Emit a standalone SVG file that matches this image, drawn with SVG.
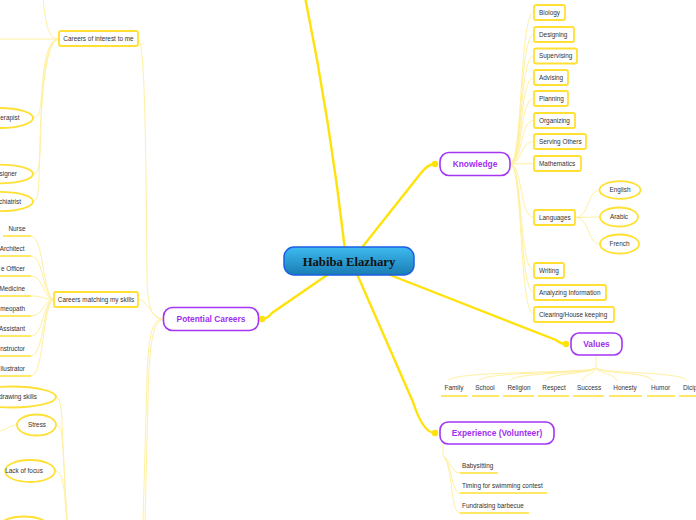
<svg xmlns="http://www.w3.org/2000/svg" width="696" height="520" viewBox="0 0 696 520">
<defs>
<linearGradient id="cg" x1="0" y1="0" x2="0" y2="1">
<stop offset="0" stop-color="#3dbaf0"/>
<stop offset="1" stop-color="#1a7db3"/>
</linearGradient>
</defs>
<style>
.main{fill:none;stroke:#ffe20a;stroke-width:2.4;stroke-linecap:round}
.thin{fill:none;stroke:#fff0a0;stroke-width:1}
.dot{fill:#ffe20a}
.topic{fill:#fff;stroke:#a535f5;stroke-width:1.6}
.ttext{font-family:"Liberation Sans",Arial,sans-serif;font-size:8.4px;font-weight:bold;fill:#a030f0;text-anchor:middle}
.box{fill:#fff;stroke:#ffe033;stroke-width:1.8}
.ell{fill:#fff;stroke:#ffe033;stroke-width:1.8}
.ul{stroke:#ffe033;stroke-width:1.5}
.t{font-family:"Liberation Sans",Arial,sans-serif;font-size:6.4px;fill:#333}
.m{text-anchor:middle}
.e{text-anchor:end}
</style>

<g id="connectors">
<path class="main" d="M345,250 Q330,120 305,-3"/>
<path class="main" d="M360,250 L421,173 Q428,164 435,164"/>
<path class="main" d="M330,273 L272,313 Q267,319 262,319"/>
<path class="main" d="M385,273 L556,340 Q561,344 566,344"/>
<path class="main" d="M357,274 L413,402 Q423,433 435,433"/>
<circle class="dot" cx="435" cy="164" r="3.2"/>
<circle class="dot" cx="262" cy="319" r="3.2"/>
<circle class="dot" cx="566" cy="344" r="3.2"/>
<circle class="dot" cx="435" cy="433" r="3.2"/>

<!-- knowledge -->
<path class="thin" d="M510,164 C523,164 519,12.5 534,12.5"/>
<path class="thin" d="M510,164 C523,164 519,34.5 534,34.5"/>
<path class="thin" d="M510,164 C523,164 519,56 534,56"/>
<path class="thin" d="M510,164 C523,164 519,77.5 534,77.5"/>
<path class="thin" d="M510,164 C523,164 519,98.5 534,98.5"/>
<path class="thin" d="M510,164 C523,164 519,120.5 534,120.5"/>
<path class="thin" d="M510,164 C523,164 519,141.5 534,141.5"/>
<path class="thin" d="M510,164 L534,163.5"/>
<path class="thin" d="M510,164 C523,164 519,217.5 534,217.5"/>
<path class="thin" d="M510,164 C523,164 519,270.5 534,270.5"/>
<path class="thin" d="M510,164 C523,164 519,292.5 534,292.5"/>
<path class="thin" d="M510,164 C523,164 519,314.5 534,314.5"/>
<path class="thin" d="M575,217.5 C590,217.5 587,190 600,190"/>
<path class="thin" d="M575,217.5 L600,217"/>
<path class="thin" d="M575,217.5 C590,217.5 587,244 600,244"/>

<!-- values -->
<path class="thin" d="M596,355 L596,368"/>
<path class="thin" d="M596,368 C590,374 451,370 448,381"/>
<path class="thin" d="M596,368 C590,374 482,371 479,381"/>
<path class="thin" d="M596,368 C590,374 513,372 510,381"/>
<path class="thin" d="M596,368 C590,374 548,373 545,381"/>
<path class="thin" d="M596,368 C594,374 585,374 582,381"/>
<path class="thin" d="M596,368 C600,374 614,373 617,381"/>
<path class="thin" d="M596,368 C602,374 650,372 653,381"/>
<path class="thin" d="M596,368 C602,374 684,371 687,381"/>

<!-- experience -->
<path class="thin" d="M443,444 L443,456"/>
<path class="thin" d="M443,456 C451,460 451,473 460,473"/>
<path class="thin" d="M443,456 C452,462 451,493 460,493"/>
<path class="thin" d="M443,456 C453,464 450,513 460,513"/>

<!-- potential careers -->
<path class="thin" d="M163,319 C152,319 148,308 147,280 C146,150 145,39 138,39"/>
<path class="thin" d="M163,319 C151,319 149,299.5 138,299.5"/>
<path class="thin" d="M163,319 C151,319 148,340 147,380 L143,522"/>
<path class="thin" d="M163,319 C152,321 149,350 148,400 L145,522"/>

<!-- careers of interest -->
<path class="thin" d="M59,39 L0,39"/>
<path class="thin" d="M59,39 C49,39 46,28 43,-2"/>
<path class="thin" d="M59,39 C48,39 44,60 42,90 C40,114 39,118 33,118"/>
<path class="thin" d="M59,39 C48,39 43,70 41,120 C40,168 39,174 33,174"/>
<path class="thin" d="M59,39 C48,39 42,80 40,140 C39,195 38,201 33,201"/>

<!-- careers matching -->
<path class="thin" d="M54,299.5 C43,299.5 44,236 31,236"/>
<path class="thin" d="M54,299.5 C43,299.5 44,256 31,256"/>
<path class="thin" d="M54,299.5 C43,299.5 44,276 31,276"/>
<path class="thin" d="M54,299.5 C43,299.5 44,296 31,296"/>
<path class="thin" d="M54,299.5 C43,299.5 44,316 31,316"/>
<path class="thin" d="M54,299.5 C43,299.5 44,336 31,336"/>
<path class="thin" d="M54,299.5 C43,299.5 44,356 31,356"/>
<path class="thin" d="M54,299.5 C43,299.5 44,376 31,376"/>

<!-- bottom left -->
<path class="thin" d="M56,397 C62,397 62,420 63,450 L67,522"/>
<path class="thin" d="M56,425 C62,425 63,440 64,465 L67,522"/>
<path class="thin" d="M55,471 C61,471 64,482 65,500 L67,522"/>
<path class="thin" d="M17,425 C10,425 8,429 0,431"/>
</g>

<g id="center">
<rect x="284" y="247" width="130" height="28" rx="10" fill="url(#cg)" stroke="#1a5fe6" stroke-width="1.5"/>
<text x="349" y="265.5" font-family="'Liberation Serif','Times New Roman',serif" font-size="12.7" font-weight="bold" fill="#111" text-anchor="middle">Habiba Elazhary</text>
</g>

<g id="knowledge">
<rect class="topic" x="440" y="152.5" width="70" height="23" rx="9"/>
<text class="ttext" x="475" y="167">Knowledge</text>
</g>
<g id="potential-careers">
<rect class="topic" x="163.5" y="307.5" width="95" height="23" rx="9"/>
<text class="ttext" x="211" y="322">Potential Careers</text>
</g>
<g id="values">
<rect class="topic" x="571" y="333" width="51" height="22" rx="8"/>
<text class="ttext" x="596.5" y="347">Values</text>
</g>
<g id="experience">
<rect class="topic" x="440" y="422" width="114" height="22" rx="8"/>
<text class="ttext" x="497" y="436">Experience (Volunteer)</text>
</g>

<g id="k-biology"><rect class="box" x="534" y="5" width="31" height="15" rx="2"/><text class="t" x="539" y="14.8">Biology</text></g>
<g id="k-designing"><rect class="box" x="534" y="27" width="40" height="15" rx="2"/><text class="t" x="539" y="36.8">Designing</text></g>
<g id="k-supervising"><rect class="box" x="534" y="48.5" width="43" height="15" rx="2"/><text class="t" x="539" y="58.3">Supervising</text></g>
<g id="k-advising"><rect class="box" x="534" y="70" width="34" height="15" rx="2"/><text class="t" x="539" y="79.8">Advising</text></g>
<g id="k-planning"><rect class="box" x="534" y="91" width="34" height="15" rx="2"/><text class="t" x="539" y="100.8">Planning</text></g>
<g id="k-organizing"><rect class="box" x="534" y="113" width="41" height="15" rx="2"/><text class="t" x="539" y="122.8">Organizing</text></g>
<g id="k-serving"><rect class="box" x="534" y="134" width="52" height="15" rx="2"/><text class="t" x="539" y="143.8">Serving Others</text></g>
<g id="k-math"><rect class="box" x="534" y="156" width="47" height="15" rx="2"/><text class="t" x="539" y="165.8">Mathematics</text></g>
<g id="k-languages"><rect class="box" x="534" y="210" width="41" height="15" rx="2"/><text class="t" x="539" y="219.8">Languages</text></g>
<g id="k-writing"><rect class="box" x="534" y="263" width="30" height="15" rx="2"/><text class="t" x="539" y="272.8">Writing</text></g>
<g id="k-analyzing"><rect class="box" x="534" y="285" width="72" height="15" rx="2"/><text class="t" x="539" y="294.8">Analyzing Information</text></g>
<g id="k-clearing"><rect class="box" x="534" y="307" width="80" height="15" rx="2"/><text class="t" x="539" y="316.8">Clearing/House keeping</text></g>

<g id="l-english"><ellipse class="ell" cx="620" cy="190" rx="20.5" ry="8.8"/><text class="t m" x="620" y="192.2">English</text></g>
<g id="l-arabic"><ellipse class="ell" cx="619" cy="217" rx="19" ry="9.5"/><text class="t m" x="619" y="219.2">Arabic</text></g>
<g id="l-french"><ellipse class="ell" cx="619.5" cy="244" rx="19.5" ry="9.5"/><text class="t m" x="619.5" y="246.2">French</text></g>

<g id="v-family"><text class="t m" x="454" y="390.2">Family</text><line class="ul" x1="441" y1="396" x2="468" y2="396"/></g>
<g id="v-school"><text class="t m" x="485" y="390.2">School</text><line class="ul" x1="472" y1="396" x2="499" y2="396"/></g>
<g id="v-religion"><text class="t m" x="519" y="390.2">Religion</text><line class="ul" x1="503" y1="396" x2="534" y2="396"/></g>
<g id="v-respect"><text class="t m" x="554" y="390.2">Respect</text><line class="ul" x1="538" y1="396" x2="569" y2="396"/></g>
<g id="v-success"><text class="t m" x="589" y="390.2">Success</text><line class="ul" x1="573" y1="396" x2="604" y2="396"/></g>
<g id="v-honesty"><text class="t m" x="625" y="390.2">Honesty</text><line class="ul" x1="609" y1="396" x2="642" y2="396"/></g>
<g id="v-humor"><text class="t m" x="660.5" y="390.2">Humor</text><line class="ul" x1="647" y1="396" x2="675" y2="396"/></g>
<g id="v-dicip"><text class="t" x="683" y="390.2">Dicip</text><line class="ul" x1="679" y1="396" x2="700" y2="396"/></g>

<g id="e-baby"><text class="t" x="462" y="468">Babysitting</text><line class="ul" x1="460" y1="473" x2="498" y2="473"/></g>
<g id="e-timing"><text class="t" x="462" y="488">Timing for swimming contest</text><line class="ul" x1="460" y1="493" x2="547" y2="493"/></g>
<g id="e-fund"><text class="t" x="462" y="508">Fundraising barbecue</text><line class="ul" x1="460" y1="513" x2="529" y2="513"/></g>

<g id="careers-interest"><rect class="box" x="59" y="31" width="79" height="15" rx="2"/><text class="t m" x="98.5" y="40.8">Careers of interest to me</text></g>
<g id="careers-matching"><rect class="box" x="54" y="292" width="84" height="15" rx="2"/><text class="t m" x="96" y="301.8">Careers matching my skills</text></g>

<g id="ci-therapist"><ellipse class="ell" cx="0" cy="118" rx="33" ry="10"/><text class="t e" x="19.5" y="120.2">erapist</text></g>
<g id="ci-designer"><ellipse class="ell" cx="0" cy="174" rx="33" ry="9.3"/><text class="t e" x="17" y="176.2">signer</text></g>
<g id="ci-psychiatrist"><ellipse class="ell" cx="0" cy="201.5" rx="33" ry="9.6"/><text class="t e" x="21" y="203.7">chiatrist</text></g>

<g id="cm-nurse"><text class="t e" x="25.5" y="231.2">Nurse</text><line class="ul" x1="3" y1="236" x2="31" y2="236"/></g>
<g id="cm-architect"><text class="t e" x="24.5" y="251.2">Architect</text><line class="ul" x1="0" y1="256" x2="31" y2="256"/></g>
<g id="cm-officer"><text class="t e" x="25" y="271.2">e Officer</text><line class="ul" x1="0" y1="276" x2="31" y2="276"/></g>
<g id="cm-medicine"><text class="t e" x="25" y="291.2">Medicine</text><line class="ul" x1="0" y1="296" x2="31" y2="296"/></g>
<g id="cm-homeopath"><text class="t e" x="25" y="311.2">meopath</text><line class="ul" x1="0" y1="316" x2="31" y2="316"/></g>
<g id="cm-assistant"><text class="t e" x="25" y="331.2">Assistant</text><line class="ul" x1="0" y1="336" x2="31" y2="336"/></g>
<g id="cm-instructor"><text class="t e" x="25" y="351.2">nstructor</text><line class="ul" x1="0" y1="356" x2="31" y2="356"/></g>
<g id="cm-illustrator"><text class="t e" x="25" y="371.2">llustrator</text><line class="ul" x1="0" y1="376" x2="31" y2="376"/></g>

<g id="c-drawing"><ellipse class="ell" cx="12" cy="397" rx="44" ry="10.5"/><text class="t e" x="37" y="399.2">drawing skills</text></g>
<g id="c-stress"><ellipse class="ell" cx="36.5" cy="425" rx="19.5" ry="10.5"/><text class="t m" x="37" y="427.2">Stress</text></g>
<g id="c-focus"><ellipse class="ell" cx="30" cy="471" rx="25" ry="11"/><text class="t m" x="24" y="473.2">Lack of focus</text></g>
<g id="c-bottom"><ellipse class="ell" cx="24" cy="528" rx="26" ry="11.5"/></g>
</svg>
